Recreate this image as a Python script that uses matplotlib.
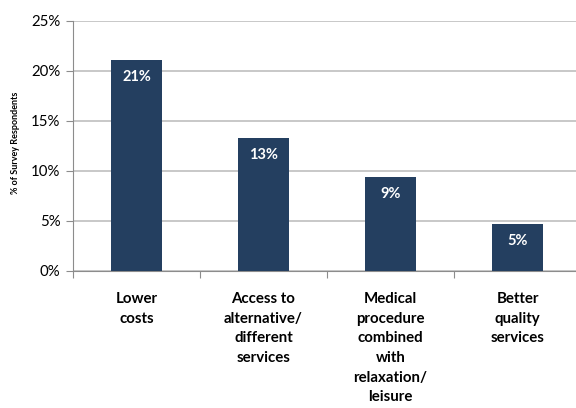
import matplotlib
matplotlib.use("Agg")
import matplotlib.pyplot as plt
from matplotlib.ticker import FuncFormatter, MultipleLocator, FixedLocator

categories = ["Lower\ncosts", "Access to\nalternative/\ndifferent\nservices",
              "Medical\nprocedure\ncombined\nwith\nrelaxation/\nleisure",
              "Better\nquality\nservices"]
values = [21.1, 13.3, 9.4, 4.7]
value_labels = ["21%", "13%", "9%", "5%"]

plt.rcParams['font.family'] = ['Lato', 'DejaVu Sans']

fig = plt.figure(figsize=(5.76, 4.08), dpi=100)
W, H = 576, 408
left, right, top, bottom = 73, 581, 21, 271
ax = fig.add_axes([left / W, 1 - bottom / H, (right - left) / W, (bottom - top) / H])

x = list(range(len(categories)))
ax.bar(x, values, width=0.4, color="#243F60", zorder=3)
for xi, v, lab in zip(x, values, value_labels):
    ax.annotate(lab, (xi, v), xytext=(0, -12), textcoords="offset points",
                ha="center", va="center", color="white", fontsize=10.5, fontweight="bold", zorder=4)

ax.set_xlim(-0.5, 3.5)
ax.set_ylim(0, 25)
ax.yaxis.set_major_locator(MultipleLocator(5))
ax.yaxis.set_major_formatter(FuncFormatter(lambda v, p: f"{int(v)}%"))
ax.grid(axis="y", color="#BFBFBF", linewidth=1.2, zorder=0)
ax.set_axisbelow(True)

ax.xaxis.set_major_locator(FixedLocator([-0.5, 0.5, 1.5, 2.5, 3.5]))
ax.xaxis.set_major_formatter(FuncFormatter(lambda v, p: ""))
ax.xaxis.set_minor_locator(FixedLocator(x))
ax.set_xticklabels(categories, minor=True, fontsize=10.8, fontweight="bold", linespacing=1.52, va="top")
ax.tick_params(axis="x", which="minor", length=0, pad=15)
ax.tick_params(axis="x", which="major", length=5, color="#8C8C8C", direction="out")
ax.tick_params(axis="y", length=5, color="#8C8C8C", labelsize=10.8, pad=4)

for s in ["top", "right"]:
    ax.spines[s].set_visible(False)
ax.spines["left"].set_color("#8C8C8C")
ax.spines["bottom"].set_color("#8C8C8C")

fig.text(16 / W, 1 - 143 / H, "% of Survey Respondents", rotation=90, ha="center", va="center",
         fontsize=6.5, fontweight="bold")

fig.savefig("out.png", dpi=100)
